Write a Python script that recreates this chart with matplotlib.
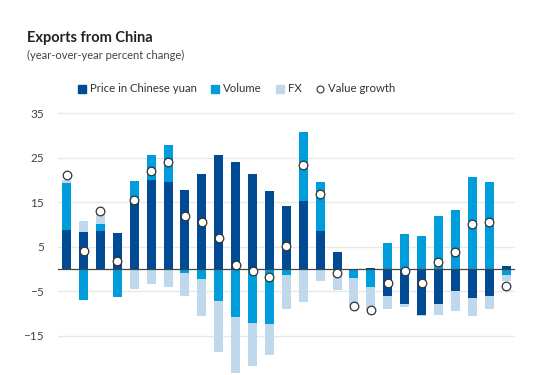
import matplotlib.pyplot as plt
import numpy as np
from matplotlib.patches import Patch
from matplotlib.lines import Line2D

plt.rcParams['font.family'] = ['Lato', 'DejaVu Sans']

# year-over-year percent change, one entry per period
price = [8.9, 8.4, 8.6, 8.2, 15.5, 20.0, 19.5, 17.8, 21.4, 25.7, 24.2, 21.4, 17.6, 14.1,
         15.4, 8.6, 3.9, 0.0, 0.3, -5.9, -7.7, -10.2, -7.7, -5.0, -6.5, -5.9, 0.7]
volume = [10.5, -6.8, 1.6, -6.3, 4.3, 5.6, 8.5, -0.75, -2.2, -7.2, -10.8, -12.0, -12.3, -1.2,
          15.4, 10.9, 0.0, -2.0, -3.9, 5.9, 7.9, 7.4, 11.9, 13.3, 20.7, 19.5, -1.2]
fx = [0.7, 2.5, 2.8, 0.0, -4.4, -3.3, -3.9, -5.25, -8.4, -11.4, -12.5, -9.8, -7.0, -7.7,
      -7.3, -2.6, -4.7, -6.3, -5.3, -3.1, -0.7, -0.2, -2.5, -4.4, -4.0, -3.0, -1.4]
value_growth = [21.1, 4.2, 13.1, 1.9, 15.5, 22.1, 24.1, 11.9, 10.7, 7.1, 0.9, -0.45, -1.8, 5.3,
                23.5, 16.8, -0.75, -8.3, -9.2, -3.1, -0.5, -3.0, 1.7, 3.8, 10.1, 10.6, -3.7]
yticks = [35, 25, 15, 5, -5, -15, -25]

c_price = '#004b93'
c_vol = '#009ddc'
c_fx = '#c0d8ec'

fig = plt.figure(figsize=(5.39, 3.75), dpi=100)
ax = fig.add_axes([58 / 539, -0.0384, (515 - 58) / 539, 0.7595])

x = np.arange(len(price))
pos = np.zeros(len(x))
neg = np.zeros(len(x))
for series, color in [(price, c_price), (volume, c_vol), (fx, c_fx)]:
    v = np.array(series)
    bottom = np.where(v >= 0, pos, neg)
    ax.bar(x, v, bottom=bottom, width=0.53, color=color, zorder=2)
    pos = pos + np.clip(v, 0, None)
    neg = neg + np.clip(v, None, 0)

ax.plot(x, value_growth, 'o', ms=6.2, mfc='white', mec='#333333', mew=0.9, zorder=4)
ax.axhline(0, color='#444444', lw=0.9, zorder=3)

ax.set_xlim(-0.51, 26.53)
ax.set_ylim(-27, 37)
ax.set_yticks(yticks)
ax.set_xticks([])
ax.grid(axis='y', color='#e8e8e8', lw=1.0, zorder=0)
ax.tick_params(axis='y', length=0, pad=10, labelsize=8.5, labelcolor='#444444')
for s in ax.spines.values():
    s.set_visible(False)

fig.text(27 / 539, 1 - 38 / 375, 'Exports from China', fontsize=10.5, fontweight='bold',
         color='#222222', va='center')
fig.text(27 / 539, 1 - 55 / 375, '(year-over-year percent change)', fontsize=8,
         color='#444444', va='center')

handles = [Patch(color=c_price), Patch(color=c_vol), Patch(color=c_fx),
           Line2D([], [], marker='o', ls='', ms=5, mfc='white', mec='#333333', mew=0.8)]
labels = ['Price in Chinese yuan', 'Volume', 'FX', 'Value growth']
fig.legend(handles, labels, loc='center', bbox_to_anchor=(237 / 539, 1 - 89 / 375), ncol=4,
           frameon=False, fontsize=8.2, handlelength=0.7, handleheight=0.7,
           handletextpad=0.35, columnspacing=1.25, labelcolor='#333333')

fig.savefig('out.png', dpi=100)
